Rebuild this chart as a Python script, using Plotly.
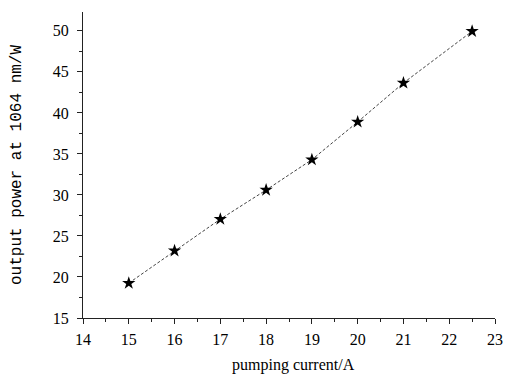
import plotly.graph_objects as go

current_A = [15, 16, 17, 18, 19, 20, 21, 22.5]
power_W = [19.25, 23.2, 27.05, 30.6, 34.3, 38.9, 43.65, 49.95]

x_ticks = [14, 15, 16, 17, 18, 19, 20, 21, 22, 23]
y_ticks = [15, 20, 25, 30, 35, 40, 45, 50]

x_title = "pumping current/A"
y_title = "output power at 1064 nm/W"

fig = go.Figure()
fig.add_trace(go.Scatter(
    x=current_A, y=power_W, mode="lines+markers",
    line=dict(color="#444444", width=1, dash="3px,2px"),
    marker=dict(symbol="star", size=10, color="black"),
    showlegend=False,
    cliponaxis=False,
))

serif = "Liberation Serif"
fig.update_layout(
    width=509, height=377,
    margin=dict(l=83, r=14, t=12, b=59),
    paper_bgcolor="white", plot_bgcolor="white",
    xaxis=dict(
        range=[14, 23], tickvals=x_ticks, showgrid=False, zeroline=False,
        showline=True, linecolor="#222", linewidth=1, automargin=False,
        ticks="outside", ticklen=5, tickcolor="#222", ticklabelstandoff=2,
        minor=dict(dtick=0.5, ticks="outside", ticklen=3, tickcolor="#222"),
        tickfont=dict(family=serif, size=16, color="black"),
    ),
    yaxis=dict(
        range=[15, 52.3], tickvals=y_ticks, showgrid=False, zeroline=False,
        showline=True, linecolor="#222", linewidth=1, automargin=False,
        ticks="outside", ticklen=5, tickcolor="#222", ticklabelstandoff=5,
        minor=dict(dtick=2.5, ticks="outside", ticklen=3, tickcolor="#222"),
        tickfont=dict(family=serif, size=16, color="black"),
    ),
    annotations=[
        dict(text=x_title, xref="paper", yref="paper", x=0.5, y=0,
             xanchor="center", yanchor="middle", yshift=-47, xshift=4, showarrow=False,
             font=dict(family=serif, size=16, color="black")),
        dict(text=y_title, xref="paper", yref="paper", x=0, y=0.5,
             xanchor="center", yanchor="middle", xshift=-66, showarrow=False,
             textangle=-90, font=dict(family="Liberation Mono", size=16, color="black")),
    ],
)

fig.write_html("out.html", config={"displayModeBar": False},
               post_script="document.body.style.margin='0';document.body.style.overflow='hidden';")
